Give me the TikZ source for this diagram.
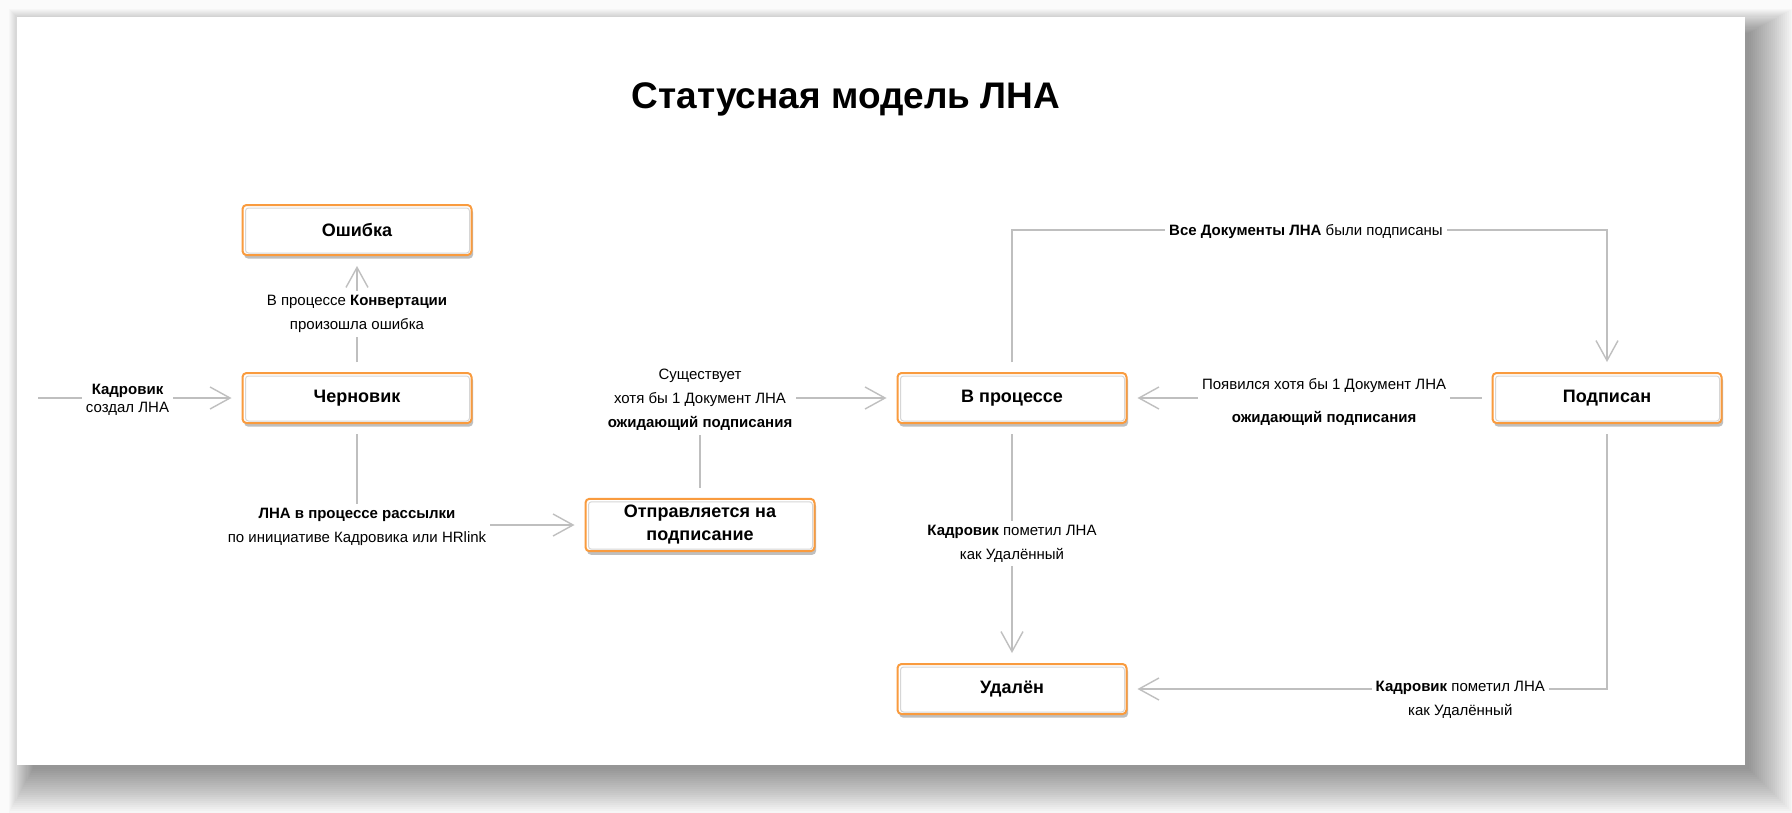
\documentclass[tikz,border=0pt]{standalone}
\usepackage{fontspec}
\setmainfont{Liberation Sans}
\usetikzlibrary{arrows.meta,positioning,calc,shadows}

\definecolor{boxOrange}{HTML}{F99B3E}
\definecolor{lineGray}{HTML}{BFBFBF}
\definecolor{sketchGray}{HTML}{D6D6D6}
\definecolor{pageGray}{HTML}{FBFBFB}

\begin{document}
\begin{tikzpicture}[
        %Environment config
        x=0.5pt, y=-0.5pt,
        font=\fontsize{7.5}{12}\selectfont,
        %Environment styles
        StateBox/.style={
            draw=boxOrange, line width=1pt, fill=white,
            rounded corners=2pt,
            minimum width=114.5pt, minimum height=25pt,
            align=center, font=\fontsize{9}{11.5}\selectfont\bfseries,
            drop shadow={shadow xshift=0.8pt, shadow yshift=-1.8pt,
                fill=black!25, opacity=1}
        },
        Conn/.style={
            draw=lineGray, line width=0.7pt,
            -{Straight Barb[length=10pt,width=11pt]},
            shorten <=5pt, shorten >=5pt
        },
        CondLbl/.style={fill=white, align=center, inner sep=2pt}
    ]
    \useasboundingbox (0,0) rectangle (1792,813);
    \fill[pageGray] (0,0) rectangle (1792,813);

    %card with soft shadow
    \foreach \i in {0,2,...,44}
        \fill[black, opacity=0.019] (33-0.55*\i,33-0.55*\i) rectangle (1749+\i,769+\i);
    \fill[white] (17,17) rectangle (1745,765);

    \node[font=\fontsize{18.5}{22}\selectfont\bfseries] (title) at (846,99) {Статусная модель ЛНА};

    \path
        (357,398) node[StateBox](draft){Черновик}
            ++(0,-168) node[StateBox](err){Ошибка}
        (700,525) node[StateBox](send){Отправляется на\\подписание}
        (1012,398) node[StateBox](proc){В процессе}
            ++(0,291) node[StateBox](del){Удалён}
        (1607,398) node[StateBox](signed){Подписан};

    %sketchy inner lines
    \foreach \n in {err,draft,send,proc,signed,del}
        \draw[sketchGray, line width=0.5pt, rounded corners=1.5pt]
            ([shift={(4,4)}]\n.north west) rectangle ([shift={(-3,-3)}]\n.south east);

    \coordinate (start) at (38,398);

    \draw[Conn, shorten <=0pt] (start) -- (draft.west)
        node[CondLbl, pos=0.44, yshift=-1pt, font=\fontsize{7.5}{9}\selectfont] (lblNew)
        {\textbf{Кадровик}\\создал ЛНА};

    \draw[Conn] (draft.north) -- (err.south)
        node[CondLbl, midway] (lblErr)
        {В процессе \textbf{Конвертации}\\произошла ошибка};

    \draw[Conn] (draft.south) |- (send.west)
        node[CondLbl, pos=0.5, yshift=-1pt] (lblSend)
        {\textbf{ЛНА в процессе рассылки}\\по инициативе Кадровика или HRlink};

    \draw[Conn] (send.north) |- (proc.west)
        node[CondLbl, pos=0.5, yshift=-1pt] (lblWait)
        {Существует\\хотя бы 1 Документ ЛНА\\\textbf{ожидающий подписания}};

    \draw[Conn] (proc.north) -- ++(0,-142) -| (signed.north)
        node[CondLbl, pos=0.247, yshift=-0.7pt] (lblAll)
        {\textbf{Все Документы ЛНА} были подписаны};

    \draw[Conn] (signed.west) -- (proc.east)
        node[CondLbl, pos=0.46, yshift=-2pt, font=\fontsize{7.5}{16.5}\selectfont] (lblBack)
        {Появился хотя бы 1 Документ ЛНА\\\textbf{ожидающий подписания}};

    \draw[Conn] (proc.south) -- (del.north)
        node[CondLbl, midway] (lblDel)
        {\textbf{Кадровик} пометил ЛНА\\как Удалённый};

    \draw[Conn] (signed.south) |- (del.east)
        node[CondLbl, pos=0.653, yshift=-5.5pt] (lblDelSigned)
        {\textbf{Кадровик} пометил ЛНА\\как Удалённый};
\end{tikzpicture}
\end{document}
